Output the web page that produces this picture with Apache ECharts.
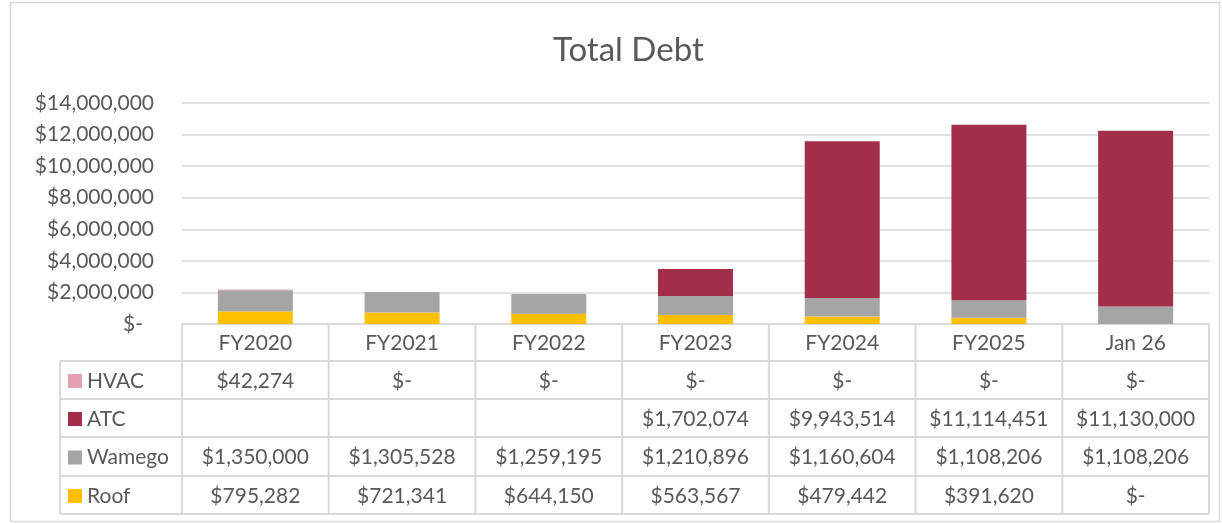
<!DOCTYPE html>
<html><head><meta charset="utf-8">
<script src="https://cdn.jsdelivr.net/npm/echarts@6/dist/echarts.min.js"></script>
<style>html,body{margin:0;padding:0;background:#fff}#c{width:1222px;height:524px}</style>
</head><body><div id="c"></div>
<script>
const categories = ['FY2020','FY2021','FY2022','FY2023','FY2024','FY2025','Jan 26'];
const hvac   = [42274, 0, 0, 0, 0, 0, 0];
const atc    = [null, null, null, 1702074, 9943514, 11114451, 11130000];
const wamego = [1350000, 1305528, 1259195, 1210896, 1160604, 1108206, 1108206];
const roof   = [795282, 721341, 644150, 563567, 479442, 391620, 0];
const seriesNames = ['HVAC','ATC','Wamego','Roof'];
const colors = {HVAC:'#E4A1B1', ATC:'#A32E4B', Wamego:'#A5A5A5', Roof:'#FFC000'};

const FONT = 'Lato';
const TXT = '#595959';
const LINE = '#D9D9D9';
const FS = 21;
function money(v){ if(v==null) return ''; if(v===0) return '$-'; return '$'+v.toLocaleString('en-US'); }

const chart = echarts.init(document.getElementById('c'), null, {renderer:'canvas'});
const dataMap = {HVAC:hvac, ATC:atc, Wamego:wamego, Roof:roof};
const stackOrder = ['Roof','Wamego','ATC','HVAC'];
chart.setOption({
  animation:false,
  textStyle:{fontFamily:FONT},
  title:{text:'Total Debt', left:548, top:29, textStyle:{fontFamily:FONT, fontSize:33, fontWeight:'normal', color:TXT}},
  grid:{left:182, right:13, top:103, bottom:200},
  xAxis:{type:'category', data:categories, axisLine:{show:false}, axisTick:{show:false}, axisLabel:{show:false}},
  yAxis:{type:'value', min:0, max:14000000, interval:2000000,
    axisLine:{show:false}, axisTick:{show:false},
    splitLine:{lineStyle:{color:LINE, width:1.5}},
    axisLabel:{fontFamily:FONT, fontSize:FS, color:TXT, margin:28,
      formatter:v=> v===0 ? '{z|$-}' : '$'+v.toLocaleString('en-US'),
      rich:{z:{fontFamily:FONT, fontSize:FS, color:TXT, padding:[0,11,0,0]}}}},
  series: stackOrder.map(n=>({name:n, type:'bar', stack:'t', barWidth:75, data:dataMap[n], itemStyle:{color:colors[n]}}))
});

// Data table
const g = [];
const xs = categories.map((c,i)=>chart.convertToPixel({xAxisIndex:0}, i));
const half = (xs[1]-xs[0])/2;
const left0 = xs[0]-half, right0 = xs[xs.length-1]+half;
const legendLeft = 60;
const rowY = [324, 361, 399, 437, 476, 514];
// outer frame
g.push({type:'rect', shape:{x:10.5,y:2.5,width:1209,height:519}, style:{fill:null, stroke:LINE, lineWidth:1.5}, silent:true});
// horizontal lines
rowY.forEach((y,k)=>{
  g.push({type:'line', shape:{x1: k===0?left0:legendLeft, y1:y, x2:right0, y2:y}, style:{stroke:LINE, lineWidth:2}});
});
// vertical lines
g.push({type:'line', shape:{x1:legendLeft,y1:rowY[1],x2:legendLeft,y2:rowY[5]}, style:{stroke:LINE, lineWidth:2}});
for(let i=0;i<=categories.length;i++){
  const x = left0 + i*2*half;
  g.push({type:'line', shape:{x1:x,y1:rowY[0],x2:x,y2:rowY[5]}, style:{stroke:LINE, lineWidth:2}});
}
// header
categories.forEach((c,i)=>{
  g.push({type:'text', x:xs[i], y:(rowY[0]+rowY[1])/2+1, style:{text:c, fill:TXT, font:FS+'px '+FONT, align:'center', verticalAlign:'middle'}});
});
// rows
seriesNames.forEach((n,r)=>{
  const yc = (rowY[r+1]+rowY[r+2])/2+1;
  g.push({type:'rect', shape:{x:68,y:yc-7,width:14,height:14}, style:{fill:colors[n]}});
  g.push({type:'text', x:87, y:yc, style:{text:n, fill:TXT, font:FS+'px '+FONT, align:'left', verticalAlign:'middle'}});
  dataMap[n].forEach((v,i)=>{
    g.push({type:'text', x:xs[i], y:yc, style:{text:money(v), fill:TXT, font:FS+'px '+FONT, align:'center', verticalAlign:'middle'}});
  });
});
chart.setOption({graphic:g});
</script>
</body></html>
